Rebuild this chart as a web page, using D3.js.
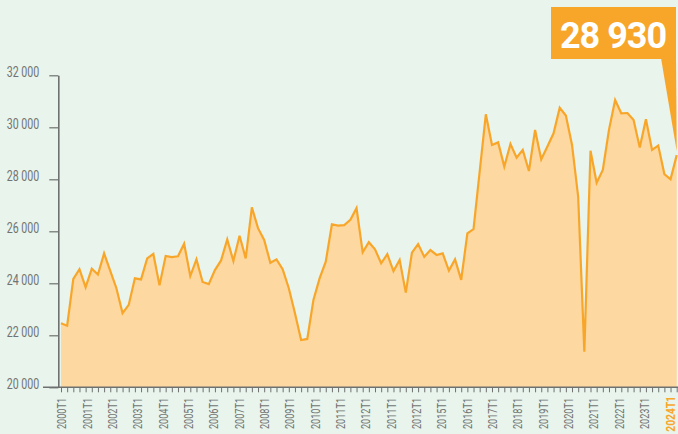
<!DOCTYPE html>
<html>
<head>
<meta charset="utf-8">
<script src="https://cdn.jsdelivr.net/npm/d3@7"></script>
<style>
  body { margin: 0; background: #e8f4ec; }
  svg { display: block; }
  .axis text { font-family: Roboto, sans-serif; fill: #707372; }
</style>
</head>
<body>
<svg width="678" height="434"></svg>
<script>
// quarterly values, 2000T1 onwards
var values = [
	22460, 22370, 24170, 24540, 23850, 24560, 24340, 25150, 24480, 23810,
	22850, 23170, 24190, 24150, 24960, 25130, 23920, 25050, 25010, 25040,
	25520, 24280, 24920, 24050, 23970, 24510, 24880, 25690, 24860, 25830,
	24960, 26920, 26120, 25670, 24790, 24920, 24540, 23810, 22850, 21820,
	21860, 23360, 24190, 24830, 26270, 26220, 26240, 26440, 26890, 25190,
	25580, 25310, 24770, 25120, 24470, 24900, 23640, 25180, 25510, 25020,
	25280, 25090, 25150, 24490, 24920, 24130, 25920, 26080, 28300, 30500,
	29320, 29420, 28490, 29360, 28830, 29130, 28320, 29900, 28770, 29260,
	29770, 30750, 30450, 29320, 27330, 21370, 29100, 27870, 28360, 29900,
	31050, 30540, 30550, 30280, 29220, 30310, 29130, 29300, 28200, 28000,
	28930
];

// labels as printed under the axis
var tickLabels = [
	"2000T1", "2001T1", "2002T1", "2003T1", "2004T1", "2005T1", "2006T1",
	"2007T1", "2008T1", "2009T1", "2010T1", "2011T1", "2012T1", "2011T1",
	"2012T1", "2015T1", "2016T1", "2017T1", "2018T1", "2019T1", "2020T1",
	"2021T1", "2022T1", "2023T1", "2024T1"
];

var yTicks = [20000, 22000, 24000, 26000, 28000, 30000, 32000];

var svgWidth = 678, svgHeight = 434;
var axisColor = "#6e7170",
	lineColor = "#f8a62a",
	fillColor = "#fdd8a0";
var squeeze = 0.76; // narrow look for the axis labels

var fmt = d3.formatLocale({ decimal: ",", thousands: "\u00a0", grouping: [3], currency: ["", ""] }).format(",d");

var xScale = d3.scaleLinear()
	.domain([0, values.length - 1])
	.range([61, 676.7]);

var yScale = d3.scaleLinear()
	.domain([20000, 32000])
	.range([387.3, 75.3]);

var labelScale = d3.scaleLinear()
	.domain([0, tickLabels.length - 1])
	.range([62, 670]);

var svg = d3.select("svg");

svg.append("rect")
	.attr("width", svgWidth)
	.attr("height", svgHeight)
	.attr("fill", "#e8f4ec");

var area = d3.area()
	.x(function(d, i) { return xScale(i); })
	.y0(yScale(20000))
	.y1(function(d) { return yScale(d); });

var line = d3.line()
	.x(function(d, i) { return xScale(i); })
	.y(function(d) { return yScale(d); });

svg.append("path")
	.datum(values)
	.attr("fill", fillColor)
	.attr("d", area);

svg.append("path")
	.datum(values)
	.attr("fill", "none")
	.attr("stroke", lineColor)
	.attr("stroke-width", 2.2)
	.attr("d", line);

// x axis: one tick per quarter
var xAxis = d3.axisBottom(xScale)
	.tickValues(d3.range(values.length))
	.tickSize(5)
	.tickSizeOuter(0)
	.tickFormat("");

var gx = svg.append("g")
	.attr("class", "x axis")
	.attr("transform", "translate(0," + yScale(20000) + ")")
	.call(xAxis);
gx.select(".domain").remove();
gx.selectAll(".tick line").attr("stroke", axisColor).attr("stroke-width", 1);

gx.append("line")
	.attr("x1", 43)
	.attr("x2", svgWidth)
	.attr("stroke", axisColor)
	.attr("stroke-width", 1.4);

var labels = svg.append("g").attr("class", "axis");
labels.selectAll("text")
	.data(tickLabels)
	.enter().append("text")
	.attr("transform", function(d, i) {
		var top = i == tickLabels.length - 1 ? 396 : 398;
		return "translate(" + labelScale(i) + "," + top + ") rotate(-90) scale(" + squeeze + ",1)";
	})
	.attr("dy", "0.35em")
	.style("text-anchor", "end")
	.style("font-size", function(d, i) { return i == tickLabels.length - 1 ? "13.5px" : "12px"; })
	.style("font-weight", function(d, i) { return i == tickLabels.length - 1 ? "bold" : "normal"; })
	.style("fill", function(d, i) { return i == tickLabels.length - 1 ? lineColor : null; })
	.text(function(d) { return d; });

// y axis
var yAxis = d3.axisLeft(yScale)
	.tickValues(yTicks)
	.tickSize(9)
	.tickSizeOuter(0)
	.tickPadding(10)
	.tickFormat(fmt);

var gy = svg.append("g")
	.attr("class", "y axis")
	.attr("transform", "translate(58.3,0)")
	.call(yAxis);
gy.select(".domain").attr("stroke", axisColor).attr("stroke-width", 1.6);
gy.selectAll(".tick line").attr("stroke", axisColor).attr("stroke-width", 1.2);
gy.selectAll(".tick text")
	.attr("x", -19 / squeeze)
	.attr("dy", "0.1em")
	.attr("transform", "scale(" + squeeze + ",1)")
	.style("font-size", "14px")
	.style("font-family", "Roboto, sans-serif")
	.style("fill", "#707372");

// callout with the latest value
var last = values.length - 1;
var tipX = xScale(last), tipY = yScale(values[last]) - 4;

svg.append("polygon")
	.attr("points", [[661, 58], [676, 58], [tipX, tipY]].map(function(p) { return p.join(","); }).join(" "))
	.attr("fill", lineColor);

svg.append("rect")
	.attr("x", 551)
	.attr("y", 7)
	.attr("width", 125)
	.attr("height", 52)
	.attr("fill", lineColor);

svg.append("text")
	.attr("x", 613)
	.attr("y", 48)
	.style("text-anchor", "middle")
	.style("font-family", "Roboto, 'Open Sans', sans-serif")
	.style("font-weight", "bold")
	.style("font-size", "36px")
	.style("letter-spacing", "-1px")
	.style("fill", "white")
	.text(fmt(values[last]));
</script>
</body>
</html>
